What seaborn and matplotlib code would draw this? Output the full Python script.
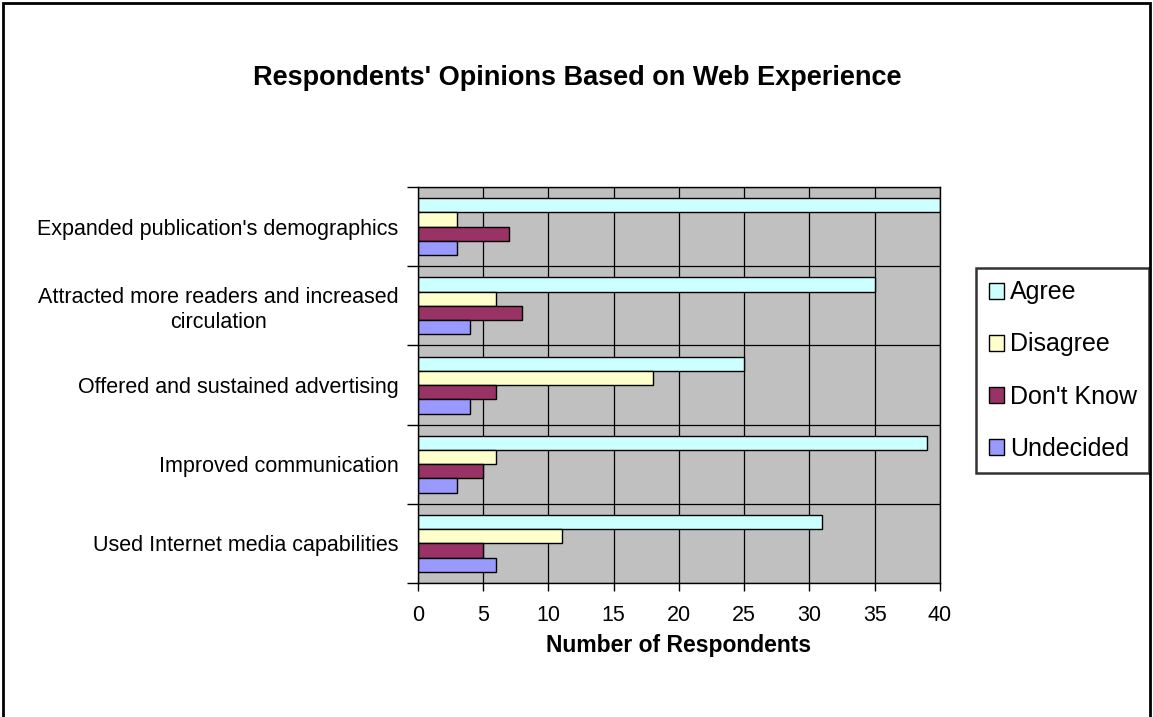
import pandas as pd
import matplotlib.pyplot as plt
import matplotlib.patches as mpatches
import seaborn as sns

# Data
categories = [
    "Expanded publication's demographics",
    "Attracted more readers and increased\ncirculation",
    "Offered and sustained advertising",
    "Improved communication",
    "Used Internet media capabilities",
]
responses = ["Agree", "Disagree", "Don't Know", "Undecided"]
agree = [40, 35, 25, 39, 31]
disagree = [3, 6, 18, 6, 11]
dont_know = [7, 8, 6, 5, 5]
undecided = [3, 4, 4, 3, 6]
x_ticks = [0, 5, 10, 15, 20, 25, 30, 35, 40]

colors = ["#CCFFFF", "#FFFFCC", "#993366", "#9999FF"]

def build_frame():
    rows = []
    for resp, vals in zip(responses, [agree, disagree, dont_know, undecided]):
        for cat, v in zip(categories, vals):
            rows.append({"category": cat, "response": resp, "count": v})
    return pd.DataFrame(rows)

def plot_chart():
    df = build_frame()
    sns.set_theme(style="white")
    plt.rcParams['font.family'] = ['Liberation Sans', 'DejaVu Sans']
    plt.rcParams['text.color'] = 'black'
    plt.rcParams['xtick.color'] = 'black'
    plt.rcParams['ytick.color'] = 'black'
    plt.rcParams['axes.labelcolor'] = 'black'

    fig = plt.figure(figsize=(11.53, 7.17), dpi=100)
    ax = fig.add_axes([0.3625, 0.187, 0.4527, 0.552])
    ax.set_facecolor("#C0C0C0")

    sns.barplot(data=df, y="category", x="count", hue="response",
                order=categories, hue_order=responses, palette=colors,
                orient="h", width=0.72, edgecolor="black", linewidth=1.0,
                saturation=1, ax=ax, legend=True)

    ax.set_xlim(0, 40)
    ax.set_ylim(len(categories) - 0.5, -0.5)
    ax.set_xticks(x_ticks)
    ax.set_xticklabels([str(t) for t in x_ticks], fontsize=15.5)
    ax.set_yticks(range(len(categories)))
    ax.set_yticklabels(categories, fontsize=15.5, multialignment="center")
    ax.set_yticks([i - 0.5 for i in range(len(categories) + 1)], minor=True)
    ax.tick_params(axis="y", which="major", length=0, pad=14)
    ax.tick_params(axis="y", which="minor", length=8, width=1, color="black", direction="out")
    ax.tick_params(axis="x", which="major", length=6, width=1, color="black", direction="out", pad=10)
    ax.yaxis.set_tick_params(which="minor", left=True)
    ax.xaxis.set_tick_params(bottom=True)

    ax.grid(False)
    for t in x_ticks:
        ax.axvline(t, color="black", linewidth=0.9, zorder=0.5)
    for i in range(len(categories) + 1):
        ax.axhline(i - 0.5, color="black", linewidth=0.9, zorder=0.5)
    for s in ax.spines.values():
        s.set_color("black")
        s.set_linewidth(1.0)

    ax.set_ylabel("")
    ax.set_xlabel("Number of Respondents", fontsize=16.5, fontweight="bold", labelpad=6)

    handles, labels = ax.get_legend_handles_labels()
    ax.legend_.remove()
    leg = fig.legend(handles, labels, loc="upper left", bbox_to_anchor=(976 / 1153, 1 - 268 / 717),
                     borderaxespad=0, fontsize=18, frameon=True, fancybox=False,
                     handlelength=0.6, handleheight=0.6, handletextpad=0.25,
                     labelspacing=1.12, borderpad=0.5, edgecolor="black")
    leg.get_frame().set_linewidth(1.8)

    fig.text(0.5005, 0.891, "Respondents' Opinions Based on Web Experience",
             ha="center", va="center", fontsize=19.5, fontweight="bold")

    # outer chart border (bottom edge cut off in the reference)
    border = mpatches.Rectangle((3 / 1153, -0.05), 1147 / 1153, 1.05 - 3 / 717,
                                transform=fig.transFigure, fill=False,
                                edgecolor="black", linewidth=2.0)
    fig.patches.append(border)

    fig.savefig("out.png", dpi=100)

if __name__ == "__main__":
    plot_chart()
